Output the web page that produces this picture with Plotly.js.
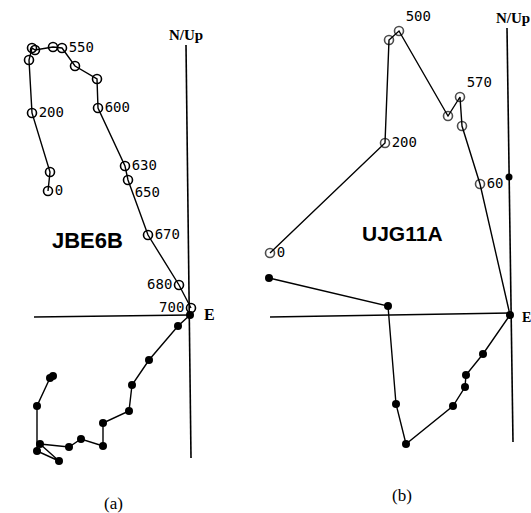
<!DOCTYPE html>
<html>
<head>
<meta charset="utf-8">
<script src="https://cdn.plot.ly/plotly-3.0.1.min.js"></script>
<style>html,body{margin:0;padding:0;background:#fff;}#chart{width:531px;height:513px;}</style>
</head>
<body>
<div id="chart"></div>
<script>
// ---------- Sample JBE6B (a) ----------
// vertical projection (open circles): East component, Up component
const aOpenE = [-14.2, -14.0, -15.8, -16.1, -15.8, -15.5, -13.7, -12.8, -11.5, -9.3, -9.2, -6.5, -6.2, -4.2, -1.1, 0.1];
const aOpenU = [12.4, 14.3, 20.2, 25.5, 26.7, 26.5, 26.8, 26.7, 24.9, 23.6, 20.7, 14.9, 13.5, 8.0, 3.0, 0.7];
const aOpenLabels = ['0', '', '200', '', '', '', '', '550', '', '', '600', '630', '650', '670', '680', '700'];
const aOpenLabelPos = ['middle right', 'middle right', 'middle right', 'middle right', 'middle right', 'middle right', 'middle right', 'middle right', 'middle right', 'middle right', 'middle right', 'middle right', 'bottom right', 'middle right', 'middle left', 'middle left'];
// horizontal projection (filled dots): East component, North component
const aFillE = [0.0, -1.2, -4.1, -5.8, -6.1, -8.7, -8.7, -10.9, -12.1, -15.0, -13.1, -15.3, -15.3, -14.0, -13.7];
const aFillN = [0.0, -1.1, -4.5, -7.0, -9.6, -10.8, -13.1, -12.4, -13.2, -12.9, -14.6, -13.6, -9.1, -6.3, -6.1];

// ---------- Sample UJG11A (b) ----------
const bOpenE = [-24.0, -12.5, -12.1, -11.1, -6.2, -5.0, -4.8, -3.0, 0.0];
const bOpenU = [6.2, 17.2, 27.5, 28.4, 19.9, 21.8, 18.9, 13.1, 0.0];
const bOpenLabels = ['0', '200', '', '500', '', '570', '', '60', ''];
const bOpenLabelPos = ['middle right', 'middle right', 'middle right', 'top right', 'middle right', 'top right', 'middle right', 'middle right', 'middle right'];
const bOpenShown = [1, 1, 1, 1, 1, 1, 1, 1, 0];
const bFillE = [-24.1, -12.2, -11.4, -10.4, -5.7, -4.5, -4.4, -2.7, 0.0];
const bFillN = [3.7, 0.9, -8.9, -12.9, -9.1, -7.2, -6.0, -3.9, 0.0];
const bExtraE = [-0.1];
const bExtraN = [13.8];

// axis extents (E axis: left end; N/Up axis: top and bottom)
const aAxisLeft = -15.6, aAxisTop = 27.0, aAxisBottom = -14.3;
const bAxisLeft = -24.0, bAxisTop = 28.7, bAxisBottom = -12.7;

const black = '#000';
const labelFont = {family: 'DejaVu Sans Mono, monospace', size: 14, color: black};

function openTrace(x, y, text, pos, xa, ya, sizes) {
  return {
    x: x, y: y, text: text, textposition: pos, textfont: labelFont,
    mode: 'lines+markers+text', xaxis: xa, yaxis: ya, cliponaxis: false,
    line: {color: black, width: 1.4},
    marker: {symbol: 'circle-open', size: sizes || 9, color: black, line: {width: 1.6, color: black}},
    hoverinfo: 'skip', showlegend: false
  };
}
function fillTrace(x, y, xa, ya) {
  return {
    x: x, y: y, mode: 'lines+markers', xaxis: xa, yaxis: ya, cliponaxis: false,
    line: {color: black, width: 1.4},
    marker: {symbol: 'circle', size: 8, color: black},
    hoverinfo: 'skip', showlegend: false
  };
}

const traces = [
  openTrace(aOpenE, aOpenU, aOpenLabels, aOpenLabelPos, 'x', 'y'),
  fillTrace(aFillE, aFillN, 'x', 'y'),
  openTrace(bOpenE, bOpenU, bOpenLabels, bOpenLabelPos, 'x2', 'y2', bOpenShown.map(s => s ? 9 : 0)),
  fillTrace(bFillE, bFillN, 'x2', 'y2'),
  {x: bExtraE, y: bExtraN, mode: 'markers', xaxis: 'x2', yaxis: 'y2', cliponaxis: false,
   marker: {symbol: 'circle', size: 7, color: black}, hoverinfo: 'skip', showlegend: false}
];

const axLine = {color: black, width: 1.6};
const shapes = [
  {type: 'line', xref: 'x', yref: 'y', x0: -0.4, y0: aAxisTop, x1: 0.1, y1: aAxisBottom, line: axLine},
  {type: 'line', xref: 'x', yref: 'y', x0: aAxisLeft, y0: -0.2, x1: 0, y1: 0, line: axLine},
  {type: 'line', xref: 'x2', yref: 'y2', x0: -0.3, y0: bAxisTop, x1: 0.3, y1: bAxisBottom, line: axLine},
  {type: 'line', xref: 'x2', yref: 'y2', x0: bAxisLeft, y0: -0.2, x1: 0, y1: 0.2, line: axLine}
];

const serifBold = {family: 'Liberation Serif, DejaVu Serif, serif', size: 15, color: black, weight: 'bold'};
const sansBold = {family: 'Liberation Sans, Arial, sans-serif', size: 22, color: black, weight: 'bold'};
const annotations = [
  {xref: 'x', yref: 'y', x: -0.4, y: 28.0, text: '<b>N/Up</b>', showarrow: false, font: serifBold},
  {xref: 'x', yref: 'y', x: 1.2, y: 0.1, text: '<b>E</b>', showarrow: false, xanchor: 'left', font: Object.assign({}, serifBold, {size: 16})},
  {xref: 'x', yref: 'y', x: -10.3, y: 7.5, text: '<b>JBE6B</b>', showarrow: false, font: sansBold},
  {xref: 'x2', yref: 'y2', x: 0.3, y: 29.7, text: '<b>N/Up</b>', showarrow: false, font: serifBold},
  {xref: 'x2', yref: 'y2', x: 1.0, y: -0.2, text: '<b>E</b>', showarrow: false, xanchor: 'left', font: Object.assign({}, serifBold, {size: 14})},
  {xref: 'x2', yref: 'y2', x: -10.8, y: 8.2, text: '<b>UJG11A</b>', showarrow: false, font: Object.assign({}, sansBold, {size: 21})},
  {xref: 'paper', yref: 'paper', x: 113 / 531, y: 1 - 503 / 513, xanchor: 'center', yanchor: 'middle', text: '(a)', showarrow: false, font: {family: 'Liberation Serif, serif', size: 17, color: black}},
  {xref: 'paper', yref: 'paper', x: 402 / 531, y: 1 - 495 / 513, xanchor: 'center', yanchor: 'middle', text: '(b)', showarrow: false, font: {family: 'Liberation Serif, serif', size: 17, color: black}}
];

const hidden = {visible: false, fixedrange: true};
const layout = {
  width: 531, height: 513,
  margin: {l: 0, r: 0, t: 0, b: 0, pad: 0},
  paper_bgcolor: '#fff', plot_bgcolor: 'rgba(0,0,0,0)',
  showlegend: false,
  xaxis: Object.assign({domain: [0, 240 / 531], range: [-19, 5], anchor: 'y'}, hidden),
  yaxis: Object.assign({domain: [0, 1], range: [-19.8, 31.5], anchor: 'x'}, hidden),
  xaxis2: Object.assign({domain: [250 / 531, 1], range: [-26, 2.1], anchor: 'y2'}, hidden),
  yaxis2: Object.assign({domain: [0, 1], range: [-19.8, 31.5], anchor: 'x2'}, hidden),
  shapes: shapes,
  annotations: annotations
};

Plotly.newPlot('chart', traces, layout, {staticPlot: true, displayModeBar: false});
</script>
</body>
</html>
